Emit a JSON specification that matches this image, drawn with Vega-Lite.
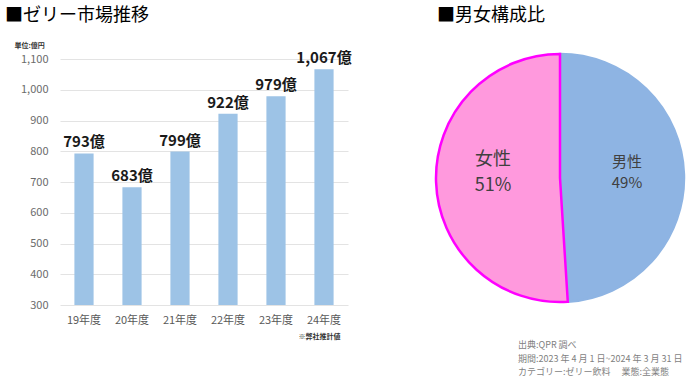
{
  "$schema": "https://vega.github.io/schema/vega-lite/v6.json",
  "padding": {"left": 5, "top": 7, "right": 0, "bottom": 0},
  "background": "white",
  "config": {
    "font": "Noto Sans CJK JP",
    "view": {"stroke": null},
    "concat": {"spacing": 79}
  },
  "datasets": {
    "market": [
      {"year": "19年度", "value": 793, "label": "793億"},
      {"year": "20年度", "value": 683, "label": "683億"},
      {"year": "21年度", "value": 799, "label": "799億"},
      {"year": "22年度", "value": 922, "label": "922億"},
      {"year": "23年度", "value": 979, "label": "979億"},
      {"year": "24年度", "value": 1067, "label": "1,067億"}
    ],
    "gender": [
      {"sex": "男性", "share": 49, "label": "男性\n49%"},
      {"sex": "女性", "share": 51, "label": "女性\n51%"}
    ]
  },
  "title": {
    "text": ["出典:QPR 調べ", "期間:2023 年 4 月 1 日~2024 年 3 月 31 日", "カテゴリー:ゼリー飲料　 業態:全業態"],
    "orient": "bottom",
    "anchor": "end",
    "align": "left",
    "dx": -171,
    "offset": 2,
    "fontSize": 9,
    "fontWeight": "normal",
    "color": "#7f7f7f",
    "lineHeight": 13.5
  },
  "hconcat": [
    {
      "width": 288,
      "height": 246,
      "title": {
        "text": "■ゼリー市場推移",
        "anchor": "start",
        "frame": "group",
        "dx": -55,
        "offset": 16,
        "fontSize": 18,
        "fontWeight": "normal",
        "color": "#000000"
      },
      "data": {"name": "market"},
      "encoding": {
        "x": {
          "field": "year",
          "type": "nominal",
          "sort": null,
          "scale": {"paddingInner": 0.6, "paddingOuter": 0.3},
          "axis": {
            "labelAngle": 0,
            "labelFontSize": 11,
            "labelColor": "#595959",
            "labelPadding": 9,
            "ticks": false,
            "domain": false,
            "title": "※弊社推計値",
            "titleFontSize": 7,
            "titleFontWeight": "bold",
            "titleColor": "#333333",
            "titleAlign": "right",
            "titleAnchor": "end",
            "titleX": 280,
            "titleY": 31,
            "titleBaseline": "middle"
          }
        },
        "y": {
          "field": "value",
          "type": "quantitative",
          "scale": {"domain": [300, 1100], "zero": false, "nice": false},
          "axis": {
            "values": [300, 400, 500, 600, 700, 800, 900, 1000, 1100],
            "format": ",.0f",
            "labelFontSize": 11,
            "labelColor": "#6b6b6b",
            "labelPadding": 12,
            "ticks": false,
            "domain": false,
            "grid": true,
            "gridColor": "#e3e3e3",
            "title": "単位:億円",
            "titleAngle": 0,
            "titleAlign": "left",
            "titleBaseline": "middle",
            "titleX": -46,
            "titleY": -14,
            "titleFontSize": 7,
            "titleFontWeight": "bold",
            "titleColor": "#333333"
          }
        }
      },
      "layer": [
        {
          "mark": {"type": "bar", "color": "#9DC3E6"},
          "encoding": {"y2": {"datum": 300}}
        },
        {
          "mark": {"type": "text", "baseline": "bottom", "dy": -3, "fontSize": 15, "fontWeight": "bold", "color": "#1a1a1a"},
          "encoding": {"text": {"field": "label"}}
        }
      ]
    },
    {
      "width": 246,
      "height": 238,
      "title": {
        "text": "■男女構成比",
        "anchor": "start",
        "frame": "group",
        "offset": 24,
        "fontSize": 18,
        "fontWeight": "normal",
        "color": "#000000"
      },
      "data": {"name": "gender"},
      "encoding": {
        "theta": {"field": "share", "type": "quantitative", "stack": true},
        "order": {"field": "share", "type": "quantitative", "sort": "ascending"}
      },
      "layer": [
        {
          "mark": {"type": "arc", "outerRadius": 124, "strokeWidth": 2.5},
          "encoding": {
            "color": {"field": "sex", "type": "nominal", "scale": {"domain": ["男性", "女性"], "range": ["#8EB4E3", "#FF99DD"]}, "legend": null},
            "stroke": {"field": "sex", "type": "nominal", "scale": {"domain": ["男性", "女性"], "range": ["#8EB4E3", "#FF00FF"]}, "legend": null}
          }
        },
        {
          "mark": {"type": "text", "radius": 67, "dy": -14, "lineBreak": "\n", "color": "#404040", "lineHeight": 21, "fontSize": 15},
          "encoding": {
            "text": {"condition": {"test": "datum.sex === '男性'", "field": "label"}, "value": ""}
          }
        },
        {
          "mark": {"type": "text", "radius": 67, "dy": -20, "lineBreak": "\n", "color": "#404040", "lineHeight": 26, "fontSize": 18},
          "encoding": {
            "text": {"condition": {"test": "datum.sex === '女性'", "field": "label"}, "value": ""}
          }
        }
      ]
    }
  ]
}
